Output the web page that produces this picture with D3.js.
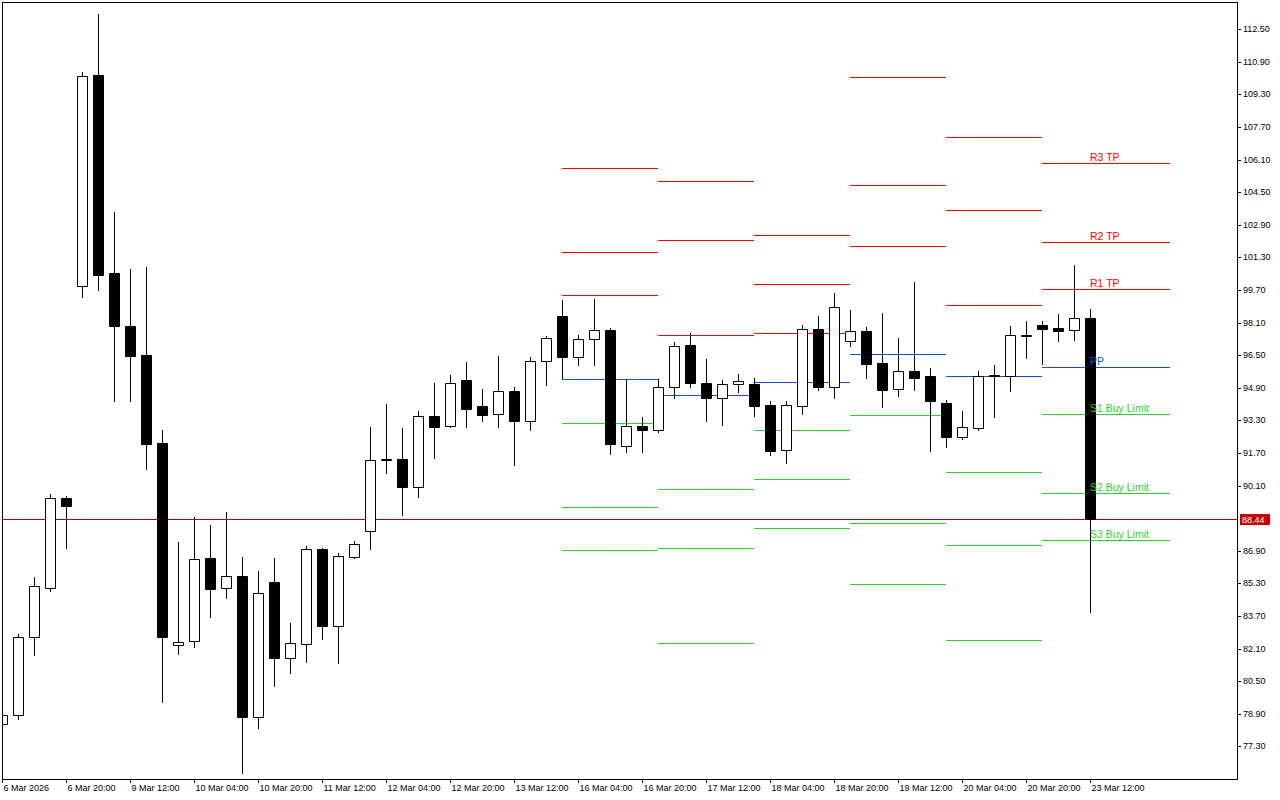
<!DOCTYPE html>
<html><head><meta charset="utf-8">
<script src="https://cdn.jsdelivr.net/npm/d3@7"></script>
<style>html,body{margin:0;padding:0;background:#fff;}svg{display:block}</style>
</head><body><svg id="c" width="1280" height="800"></svg>
<script>
// ---- data ----
const timeLabels = ["6 Mar 2026","6 Mar 20:00","9 Mar 12:00","10 Mar 04:00","10 Mar 20:00","11 Mar 12:00","12 Mar 04:00","12 Mar 20:00","13 Mar 12:00","16 Mar 04:00","16 Mar 20:00","17 Mar 12:00","18 Mar 04:00","18 Mar 20:00","19 Mar 12:00","20 Mar 04:00","20 Mar 20:00","23 Mar 12:00"];
const timeLabelIndex = [0,4,8,12,16,20,24,28,32,36,40,44,48,52,56,60,64,68];

const opens = [
 78.37,78.86,82.68,85.09,89.51,99.91,110.27,100.55,97.95,96.52,
 92.21,82.29,82.49,86.56,85.09,85.68,78.76,85.38,81.65,82.34,
 87.00,83.18,86.61,87.89,91.37,91.42,90.05,93.53,93.04,95.30,
 94.02,93.63,94.76,93.29,96.23,98.44,96.43,97.31,97.75,92.06,
 93.04,92.80,94.95,97.02,95.15,94.41,95.10,95.10,94.07,91.86,
 94.02,97.80,94.95,97.21,97.70,96.13,94.86,95.74,95.49,94.17,
 92.50,92.94,95.54,95.45,97.46,98.00,97.85,97.75,98.34];
const highs = [
 78.91,82.83,85.63,89.70,89.60,110.37,113.26,103.54,100.75,100.80,
 92.84,87.35,88.57,88.18,88.82,86.61,85.92,86.56,83.37,87.15,
 87.05,86.81,87.40,92.99,94.12,92.94,93.78,95.15,95.54,96.18,
 94.86,96.48,94.91,96.43,97.46,99.22,97.51,99.27,97.85,95.35,
 93.48,95.35,97.16,97.60,96.33,95.30,95.59,95.40,94.27,94.27,
 98.00,98.44,99.57,98.73,97.90,98.59,97.36,100.11,95.89,94.32,
 93.78,95.74,96.03,97.95,98.19,98.19,98.54,100.94,98.78];
const lows = [
 78.32,78.66,81.80,84.94,87.05,99.37,99.71,94.27,94.27,90.93,
 79.45,81.85,82.19,83.67,84.60,76.01,78.22,80.28,80.92,81.46,
 82.59,81.41,86.56,87.00,90.73,88.67,89.56,91.47,92.99,92.99,
 93.29,92.99,91.13,92.84,95.05,95.40,95.99,95.99,91.67,91.76,
 91.76,92.75,94.37,94.91,93.29,93.09,94.71,93.53,91.62,91.22,
 93.63,94.81,94.37,96.97,95.40,93.97,94.51,94.81,91.81,92.01,
 92.40,92.84,93.48,94.76,96.38,96.08,97.21,97.26,83.91];
const closes = [
 78.86,82.68,85.19,89.51,89.11,110.22,100.45,97.95,96.48,92.16,
 82.68,82.44,86.51,85.04,85.68,78.76,84.84,81.65,82.39,87.00,
 83.18,86.66,87.25,91.37,91.38,90.05,93.53,92.99,95.15,93.87,
 93.58,94.76,93.29,96.23,97.36,96.43,97.31,97.75,92.16,93.04,
 92.80,94.95,96.97,95.15,94.37,95.10,95.25,94.02,91.81,94.07,
 97.80,94.95,98.88,97.70,96.08,94.81,95.74,95.40,94.27,92.50,
 92.99,95.49,95.45,97.51,97.47,97.80,97.70,98.34,88.44];

const priceTicks = [112.50,110.90,109.30,107.70,106.10,104.50,102.90,101.30,99.70,98.10,96.50,94.90,93.30,91.70,90.10,86.90,85.30,83.70,82.10,80.50,78.90,77.30];
const lastPrice = 88.44;

// daily pivot levels (start/end candle index of each day's segment)
const pivotStart = [35,41,47,53,59,65];
const pivotEnd   = [41,47,53,59,65,73];
const r3 = [105.70,105.06,102.41,110.17,107.22,105.95];
const r2 = [101.58,102.17,100.01,104.87,103.64,102.07];
const r1 = [99.47,97.51,97.60,101.87,98.98,99.76];
const pp = [95.35,94.56,95.20,96.57,95.45,95.94];
const s1 = [93.19,89.95,92.84,93.58,90.78,93.63];
const s2 = [89.06,87.05,90.44,88.28,87.20,89.75];
const s3 = [86.95,82.39,88.03,85.28,82.54,87.44];
const levelNames = ["R3 TP","R2 TP","R1 TP","PP","S1 Buy Limit","S2 Buy Limit","S3 Buy Limit"];

// ---- drawing ----
const RED="#ff0000", BLUE="#1050dc", GREEN="#32cd32";
const levelSets = [[r3,RED],[r2,RED],[r1,RED],[pp,BLUE],[s1,GREEN],[s2,GREEN],[s3,GREEN]];

const svg = d3.select("#c");
const L=2, T=2, R=1237, B=779;
const x = d3.scaleLinear().domain([0,68]).range([2,1090]);
const y = d3.scaleLinear().domain([77.3,112.5]).range([746.3,29.1]);
const yR = y.copy().interpolate(d3.interpolateRound);
const px = v => Math.round(y(v));

svg.append("defs").append("clipPath").attr("id","plot")
  .append("rect").attr("x",L+1).attr("y",T+1).attr("width",R-L-1).attr("height",B-T-1);

const g = svg.append("g").attr("clip-path","url(#plot)");

// pivot segments
levelSets.forEach(([arr,col])=>{
  g.append("g").selectAll("line").data(arr).join("line")
    .attr("x1",(d,i)=>Math.round(x(pivotStart[i])))
    .attr("x2",(d,i)=>Math.round(x(pivotEnd[i])))
    .attr("y1",d=>px(d)+0.5).attr("y2",d=>px(d)+0.5)
    .attr("stroke",col).attr("stroke-width",1);
});

// current price line
g.append("line").attr("x1",L).attr("x2",R)
  .attr("y1",px(lastPrice)+0.5).attr("y2",px(lastPrice)+0.5)
  .attr("stroke","#b40000").attr("stroke-width",1);

// candles
const idx = d3.range(opens.length);
const cg = g.append("g");
cg.selectAll("line.w").data(idx).join("line").attr("class","w")
  .attr("x1",i=>Math.round(x(i))+0.5).attr("x2",i=>Math.round(x(i))+0.5)
  .attr("y1",i=>px(highs[i])).attr("y2",i=>px(lows[i])+1)
  .attr("stroke","#000").attr("stroke-width",1);
cg.selectAll("path.b").data(idx).join("path").attr("class","b")
  .attr("d",i=>{
    const xc=Math.round(x(i));
    let t=px(Math.max(opens[i],closes[i])), b=px(Math.min(opens[i],closes[i]));
    if(b-t<1) b=t+1;
    return `M${xc-4.5},${t+0.5}H${xc+5.5}V${b+0.5}H${xc-4.5}Z`;
  })
  .attr("fill",i=>closes[i]<opens[i]?"#000":"#fff")
  .attr("stroke","#000").attr("stroke-width",1);

// level labels on the last day
const last = r3.length-1;
const lg = g.append("g").attr("font-family","'Liberation Sans',Arial,sans-serif").attr("font-size","10.5px");
levelSets.forEach(([arr,col],j)=>{
  lg.append("text").attr("x",Math.round(x(68))).attr("y",px(arr[last])-2)
    .attr("fill",col).text(levelNames[j]);
});

// frame
svg.append("rect").attr("x",L+0.5).attr("y",T+0.5).attr("width",R-L).attr("height",B-T)
  .attr("fill","none").attr("stroke","#000").attr("stroke-width",1);

// y axis
const yAxis = svg.append("g").attr("transform",`translate(${R},0)`)
  .call(d3.axisRight(yR).tickValues(priceTicks).tickSize(4).tickPadding(2).tickFormat(d=>d.toFixed(2)));
yAxis.select(".domain").remove();
yAxis.selectAll("text").attr("font-family","'Liberation Sans',Arial,sans-serif").attr("font-size","9px").attr("fill","#000");
yAxis.selectAll("line").attr("stroke","#000");

// x axis
const xR = x.copy().interpolate(d3.interpolateRound);
const xAxis = svg.append("g").attr("transform",`translate(0,${B})`)
  .call(d3.axisBottom(xR).tickValues(timeLabelIndex).tickSize(4).tickPadding(2)
    .tickFormat((d,i)=>timeLabels[i]));
xAxis.select(".domain").remove();
xAxis.selectAll("text").attr("text-anchor","start").attr("x",1)
  .attr("font-family","'Liberation Sans',Arial,sans-serif").attr("font-size","9px").attr("fill","#000");
xAxis.selectAll("line").attr("stroke","#000");

// last price tag
const py = px(lastPrice);
svg.append("rect").attr("x",1240).attr("y",py-5).attr("width",30).attr("height",11).attr("fill","#c80000");
svg.append("text").attr("x",1242).attr("y",py+0.5).attr("dy","0.35em")
  .attr("font-family","'Liberation Sans',Arial,sans-serif").attr("font-size","9px").attr("fill","#fff")
  .text(lastPrice.toFixed(2));
</script></body></html>
